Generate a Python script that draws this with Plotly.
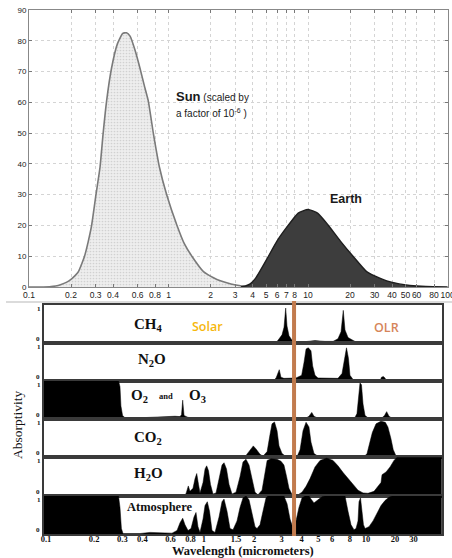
import plotly.graph_objects as go

W, H = 452, 558

# ---------------- top chart data ----------------
sun_wl = [0.1, 0.12, 0.14, 0.155, 0.17, 0.185, 0.2, 0.213, 0.226, 0.24, 0.25, 0.265, 0.281,
          0.302, 0.323, 0.34, 0.36, 0.39, 0.43, 0.47, 0.5, 0.53, 0.575, 0.625, 0.67, 0.716,
          0.778, 0.86, 0.97, 1.15, 1.3, 1.47, 1.78, 2.1, 2.35, 2.8, 3.2, 3.6, 4.0]
sun_val = [0, 0.02, 0.1, 0.3, 0.8, 1.5, 2.5, 3.6, 5, 7.8, 10, 14.5, 20,
           30, 39, 50, 60.5, 71, 79, 82.4, 82.6, 81.5, 77, 71, 65.5, 60.5,
           50, 39, 30, 20, 14, 10, 5, 3, 2, 1, 0.5, 0.2, 0]
earth_wl = [3.3, 3.6, 3.85, 4.2, 4.5, 5.2, 6.0, 7.2, 8.5, 10, 11.7, 14, 17, 21, 26.3, 30,
            36.6, 45, 53.7, 70, 100]
earth_val = [0, 0.4, 1, 2.8, 5, 10, 15, 20, 24, 25.2, 24, 20, 15, 10, 5, 3.6,
             2, 1, 0.5, 0.15, 0]
top_xticks = [0.1, 0.2, 0.3, 0.4, 0.6, 0.8, 1, 2, 3, 4, 5, 6, 7, 8, 10, 20, 30, 40, 50, 60, 80, 100]
top_xlabels = ["0.1", "0.2", "0.3", "0.4", "0.6", "0.8", "1", "2", "3", "4", "5", "6", "7", "8",
               "10", "20", "30", "40", "50", "60", "80", "100"]
top_yticks = [0, 10, 20, 30, 40, 50, 60, 70, 80, 90]

# ---------------- bottom chart data (absorptivity) ----------------
ch4_wl = [0.097, 2.70, 2.818, 2.985, 3.073, 3.148, 3.208, 3.302, 3.447, 3.548, 3.87, 4.80, 5.54,
          6.22, 6.68, 6.98, 7.21, 7.39, 7.72, 8.18, 8.53, 8.78, 29.9]
ch4_a = [0, 0, 0.08, 0.22, 0.42, 0.92, 0.45, 0.2, 0.08, 0.03, 0.03, 0.07, 0.05,
         0.05, 0.12, 0.3, 0.86, 0.35, 0.15, 0.1, 0.05, 0, 0]

n2o_wl = [0.097, 2.62, 2.74, 2.87, 2.94, 3.07, 3.65, 3.96, 4.10, 4.22, 4.36, 4.53, 4.64, 4.80,
          5.01, 6.68, 7.08, 7.34, 7.55, 7.77, 7.94, 8.30, 8.53, 12.23, 12.49, 12.82, 13.14,
          13.43, 29.9]
n2o_a = [0, 0, 0.08, 0.3, 0.1, 0.07, 0.08, 0.15, 0.5, 0.85, 0.88, 0.8, 0.4, 0.15,
         0.08, 0.07, 0.2, 0.6, 0.88, 0.6, 0.15, 0.04, 0, 0, 0.1, 0.12, 0.08,
         0, 0]

o2o3_wl = [0.097, 0.284, 0.290, 0.294, 0.301, 0.312, 0.387, 0.516, 0.640, 0.688, 0.703, 0.715,
           0.729, 0.772, 0.917, 1.413, 3.35, 4.16, 4.40, 4.58, 4.73, 5.01, 7.94, 8.53, 8.78,
           8.98, 9.17, 9.37, 9.58, 9.86, 10.29, 12.59, 13.05, 13.46, 13.92, 14.54, 16.71,
           16.9, 29.9]
o2o3_a = [1, 1, 0.85, 0.35, 0.1, 0.04, 0.04, 0.07, 0.08, 0.07, 0.12, 0.5,
          0.1, 0.05, 0.03, 0.02, 0.01, 0.02, 0.08, 0.18, 0.08, 0.03, 0.03, 0.05, 0.15,
          0.5, 0.95, 0.9, 0.4, 0.1, 0.04, 0.04, 0.1, 0.2, 0.08, 0.03, 0.02,
          0, 0]

co2_wl = [0.097, 1.631, 1.778, 1.884, 1.975, 2.054, 2.175, 2.27, 2.41, 2.512, 2.585, 2.68, 2.78,
          2.86, 2.985, 3.16, 3.71, 3.87, 4.04, 4.22, 4.40, 4.53, 4.73, 5.01, 9.86, 10.15,
          10.44, 10.95, 11.55, 12.4, 13.2, 13.7, 14.3, 14.8, 15.35, 15.62, 29.9]
co2_a = [0, 0, 0.05, 0.18, 0.3, 0.22, 0.08, 0.03, 0.15, 0.6, 0.88, 0.93, 0.7,
         0.3, 0.1, 0.02, 0.02, 0.2, 0.7, 0.92, 0.8, 0.4, 0.1, 0.03, 0.04, 0.1,
         0.3, 0.65, 0.88, 0.95, 0.92, 0.8, 0.5, 0.2, 0.05, 0, 0]

h2o_wl = [0.097, 0.739, 0.755, 0.775, 0.794, 0.829, 0.854, 0.875, 0.898, 0.917, 0.958, 0.986,
          1.010, 1.037, 1.067, 1.106, 1.155, 1.206, 1.259, 1.296, 1.343, 1.393, 1.454, 1.54,
          1.631, 1.703, 1.778, 1.857, 1.94, 2.024, 2.113, 2.239, 2.338, 2.41, 2.549, 2.78,
          2.94, 3.07, 3.19, 3.30, 3.447, 3.76, 3.98, 4.22, 4.47, 4.80, 5.16, 5.68, 6.22,
          6.68, 7.21, 7.72, 8.33, 8.91, 9.58, 10.29, 11.22, 11.89, 12.41, 12.59, 13.34,
          14.13, 14.96, 15.62, 29.9]
h2o_a = [0, 0, 0.1, 0.26, 0.12, 0.2, 0.45, 0.58, 0.3, 0.08, 0.35, 0.7,
         0.78, 0.65, 0.3, 0.05, 0.08, 0.4, 0.8, 0.86, 0.7, 0.3, 0.05, 0.1,
         0.5, 0.88, 0.95, 0.8, 0.4, 0.1, 0.03, 0.15, 0.6, 0.92, 0.96, 0.95,
         0.9, 0.8, 0.5, 0.2, 0.04, 0.03, 0.1, 0.25, 0.45, 0.75, 0.92, 0.98, 0.92,
         0.78, 0.6, 0.45, 0.28, 0.15, 0.08, 0.07, 0.12, 0.25, 0.35, 0.55, 0.62,
         0.75, 0.92, 1.0, 1.0]

atm_wl = [0.097, 0.284, 0.290, 0.296, 0.303, 0.387, 0.447, 0.516, 0.613, 0.659, 0.688, 0.715,
          0.739, 0.772, 0.806, 0.841, 0.866, 0.891, 0.917, 0.958, 0.986, 1.019, 1.052, 1.09,
          1.138, 1.206, 1.259, 1.296, 1.353, 1.413, 1.475, 1.562, 1.631, 1.703, 1.778, 1.857,
          1.94, 2.024, 2.084, 2.175, 2.27, 2.371, 2.44, 3.07, 3.21, 3.35, 3.50, 3.65, 3.81,
          3.98, 4.16, 4.40, 4.53, 4.73, 5.01, 5.31, 5.54, 7.39, 7.72, 8.06, 8.41, 8.66, 8.91,
          9.04, 9.24, 9.44, 9.64, 9.86, 10.44, 11.06, 11.72, 12.41, 13.14, 13.92, 14.54, 29.9]
atm_a = [1, 1, 0.7, 0.15, 0.02, 0.02, 0.05, 0.04, 0.03, 0.1, 0.3, 0.42,
         0.25, 0.1, 0.15, 0.45, 0.57, 0.2, 0.05, 0.4, 0.75, 0.85, 0.6, 0.1,
         0.05, 0.45, 0.85, 0.92, 0.6, 0.15, 0.12, 0.35, 0.7, 0.95, 1.0, 0.9,
         0.5, 0.2, 0.15, 0.25, 0.6, 0.95, 1.0, 1.0, 0.8, 0.4, 0.16, 0.35, 0.7,
         0.95, 1.0, 1.0, 0.92, 0.82, 0.9, 0.98, 1.0, 1.0, 0.6, 0.25, 0.12, 0.15, 0.35,
         0.85, 0.95, 0.6, 0.25, 0.15, 0.2, 0.35, 0.55, 0.75, 0.88, 0.97, 1.0, 1.0]

panels = [
    ("CH4", ch4_wl, ch4_a),
    ("N2O", n2o_wl, n2o_a),
    ("O2O3", o2o3_wl, o2o3_a),
    ("CO2", co2_wl, co2_a),
    ("H2O", h2o_wl, h2o_a),
    ("Atm", atm_wl, atm_a),
]
bottom_tick_labels = ["0.1", "0.2", "0.3", "0.4", "0.6", "0.8", "1", "1.5", "2", "3", "4", "5",
                      "6", "8", "10", "20", "30"]
bottom_tick_at = [0.1, 0.2, 0.3, 0.4, 0.6, 0.8, 0.97, 1.54, 2.0, 2.97, 3.96, 5.03, 6.15, 7.94,
                  10, 15.2, 19.8]
boundary_wl = 3.55

# ---------------- layout helpers ----------------
def px(x):
    return x / W


def py(y):
    return 1 - y / H


SERIF = "Liberation Serif"
SANS = "Liberation Sans"

fig = go.Figure()

# top chart traces
fig.add_trace(go.Scatter(
    x=sun_wl, y=sun_val, mode="lines", line=dict(color="#7a7a7a", width=1.6, shape="spline", smoothing=0.5),
    fill="tozeroy", fillcolor="#e6e6e6",
    fillpattern=dict(shape=".", size=3, solidity=0.25, fgcolor="#b4b4b4", bgcolor="#eeeeee"),
    xaxis="x", yaxis="y", showlegend=False, hoverinfo="skip"))
fig.add_trace(go.Scatter(
    x=earth_wl, y=earth_val, mode="lines", line=dict(color="#1e1e1e", width=1.4, shape="spline", smoothing=0.5),
    fill="tozeroy", fillcolor="#3d3d3d",
    xaxis="x", yaxis="y", showlegend=False, hoverinfo="skip"))

panel_edges = [305, 343.3, 381, 419.3, 457.3, 496, 534.3]

for i, (name, wl, a) in enumerate(panels):
    k = i + 2
    fig.add_trace(go.Scatter(
        x=wl, y=a, mode="lines", line=dict(color="black", width=0.5),
        fill="tozeroy", fillcolor="black",
        xaxis=f"x{k}", yaxis=f"y{k}", showlegend=False, hoverinfo="skip"))

layout = dict(
    width=W, height=H, autosize=False,
    margin=dict(l=0, r=0, t=0, b=0, pad=0, autoexpand=False),
    paper_bgcolor="white", plot_bgcolor="white",
    showlegend=False,
    xaxis=dict(
        type="log", range=[-1, 2.003], domain=[px(29), px(448)],
        tickvals=top_xticks, ticktext=top_xlabels, tickangle=0, ticklabeloverflow="allow",
        tickfont=dict(family=SANS, size=8.5, color="#222"),
        ticks="inside", ticklen=3, tickcolor="#777",
        showline=True, mirror="ticks", linecolor="#888", linewidth=1,
        showgrid=True, gridcolor="#d4d4d4", griddash="dot", gridwidth=1,
        zeroline=False, anchor="y", automargin=False,
    ),
    yaxis=dict(
        range=[0, 90], domain=[py(287), py(10)],
        tickvals=top_yticks, tickangle=0, ticklabeloverflow="allow",
        tickfont=dict(family=SANS, size=8, color="#222"),
        ticks="inside", ticklen=3, tickcolor="#777",
        showline=True, mirror="ticks", linecolor="#888", linewidth=1,
        showgrid=True, gridcolor="#d4d4d4", griddash="dot", gridwidth=1,
        zeroline=False, anchor="x", automargin=False,
    ),
)

for i in range(6):
    k = i + 2
    top_px, bot_px = panel_edges[i], panel_edges[i + 1]
    last = (i == 5)
    xa = dict(
        type="log", range=[-1.0125, 1.473], domain=[px(44), px(441.7)],
        showline=True, mirror=True, linecolor="#3a3a3a", linewidth=1.5,
        showgrid=False, zeroline=False, ticks="", ticklen=0, anchor=f"y{k}",
        showticklabels=last, automargin=False, tickangle=0,
    )
    if last:
        xa.update(tickvals=bottom_tick_at, ticktext=bottom_tick_labels,
                  ticklabelstandoff=-4, ticklabeloverflow="allow",
                  tickfont=dict(family=SERIF, size=8.5, color="#111", weight="bold"))
    else:
        xa.update(matches="x7")
    layout[f"xaxis{k}"] = xa
    layout[f"yaxis{k}"] = dict(
        range=[0, 1], domain=[py(bot_px), py(top_px)],
        showline=True, mirror=True, linecolor="#3a3a3a", linewidth=1.5,
        showgrid=False, zeroline=False, showticklabels=False, ticks="",
        anchor=f"x{k}", automargin=False,
    )

fig.update_layout(**layout)

# shapes
fig.add_shape(type="line", xref="paper", yref="paper", x0=px(6), x1=1, y0=py(302), y1=py(302),
              line=dict(color="#cfcfcf", width=1.5))
fig.add_shape(type="line", xref="x7", yref="paper", x0=boundary_wl, x1=boundary_wl,
              y0=py(536), y1=py(301), line=dict(color="#c27b4e", width=4))

ann = []


def add_text(text, x, y, size, family, color="#111", xanchor="center", weight="normal", textangle=0):
    ann.append(dict(text=text, x=px(x), y=py(y), xref="paper", yref="paper", showarrow=False,
                    xanchor=xanchor, yanchor="middle", textangle=textangle,
                    font=dict(family=family, size=size, color=color, weight=weight)))


# top chart labels
add_text("<span style='font-size:13px'><b>Sun</b></span> (scaled by", 174, 96.5, 10, SANS, "#1a1a1a",
         xanchor="left")
add_text("a factor of 10<sup>-6</sup> )", 174, 112.5, 10, SANS, "#1a1a1a", xanchor="left")
add_text("Earth", 346, 198.5, 12.5, SANS, "#1a1a1a", weight="bold")

# panel labels
add_text("CH<sub>4</sub>", 148, 324.5, 15, SERIF, "#111", weight="bold")
add_text("N<sub>2</sub>O", 152, 360, 15, SERIF, "#111", weight="bold")
add_text("O<sub>2</sub>", 139.5, 396, 15, SERIF, "#111", weight="bold")
add_text("and", 165.5, 395.5, 8.5, SERIF, "#111", weight="bold")
add_text("O<sub>3</sub>", 197, 396, 15, SERIF, "#111", weight="bold")
add_text("CO<sub>2</sub>", 147.5, 437.5, 15, SERIF, "#111", weight="bold")
add_text("H<sub>2</sub>O", 148, 474.5, 15, SERIF, "#111", weight="bold")
add_text("Atmosphere", 159, 507, 12.5, SERIF, "#111", weight="bold")

add_text("Solar", 207.5, 326, 12.5, "Open Sans", "#f6b70c", weight=600)
add_text("OLR", 386.5, 327, 12.5, "Open Sans", "#d6855a", weight=600)

for i in range(6):
    add_text("1", 38.5, panel_edges[i] + 3.5, 7, SERIF, "#111", weight="bold")
    add_text("0", 38, panel_edges[i + 1] - 4, 7, SERIF, "#111", weight="bold")

add_text("Absorptivity", 17, 425, 13.5, SERIF, "#111", textangle=-90)
add_text("Wavelength (micrometers)", 243, 551, 12.5, SERIF, "#111", weight="bold")

fig.update_layout(annotations=ann)

fig.write_html("out.html", config={"displayModeBar": False},
               post_script="document.body.style.margin='0';document.body.style.overflow='hidden';")
